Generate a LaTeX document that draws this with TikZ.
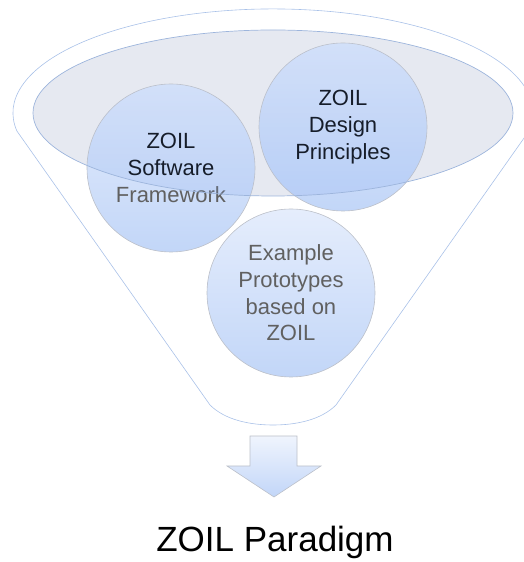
\documentclass[tikz,border=0pt]{standalone}
\usepackage{fontspec}
\setmainfont{Liberation Sans}
\definecolor{funnelline}{HTML}{A9C1E8}
\definecolor{ellfill}{HTML}{E6E9F1}
\definecolor{elledge}{HTML}{9DB5DC}
\definecolor{circtop}{HTML}{E5EDFC}
\definecolor{circbot}{HTML}{C2D6F8}
\definecolor{circedge}{HTML}{BCC0C9}
\definecolor{tint}{HTML}{7FA6EE}
\definecolor{graytext}{HTML}{606060}
\tikzset{
  bubble/.style={circle, minimum size=168pt, inner sep=0pt, draw=circedge, line width=0.6pt,
    top color=circtop, bottom color=circbot, align=center,
    font=\fontsize{22}{26.7}\selectfont},
}
\begin{document}
\begin{tikzpicture}[x=1pt,y=1pt]
\useasboundingbox (0,0) rectangle (523,562);
% funnel outline
\draw[funnelline, line width=0.6pt]
  (529,431) arc[start angle=-10, end angle=190, x radius=260, y radius=104]
  -- (210,157) .. controls (225,142) and (250,137) .. (273,137)
  .. controls (296,137) and (321,142) .. (336,157) -- cycle;
% inner ellipse fill
\fill[ellfill] (273,449) ellipse[x radius=240, y radius=83];
% circles
\node[bubble] (fw) at (171,394) {ZOIL\\Software\\\textcolor{graytext}{Framework}};
\node[bubble] (dp) at (343,435) {ZOIL\\Design\\Principles};
\node[bubble, text=graytext] (ex) at (291,269) {Example\\Prototypes\\based on\\ZOIL};
% blue tint where circles lie inside the ellipse
\begin{scope}
  \clip (273,449) ellipse[x radius=240, y radius=83];
  \fill[tint, fill opacity=0.18] (fw.center) circle[radius=83.7];
  \fill[tint, fill opacity=0.18] (dp.center) circle[radius=83.7];
\end{scope}
% ellipse outline on top
\draw[elledge, line width=0.7pt] (273,449) ellipse[x radius=240, y radius=83];
% arrow
\draw[circedge, line width=0.6pt, top color=circtop!60!white, bottom color=circbot]
  (250,126) -- (297,126) -- (297,96) -- (321,96) -- (274,65) -- (227,96) -- (250,96) -- cycle;
% title
\node[font=\fontsize{35}{42}\selectfont, anchor=base] (title) at (275,10) {ZOIL Paradigm};
\end{tikzpicture}
\end{document}
